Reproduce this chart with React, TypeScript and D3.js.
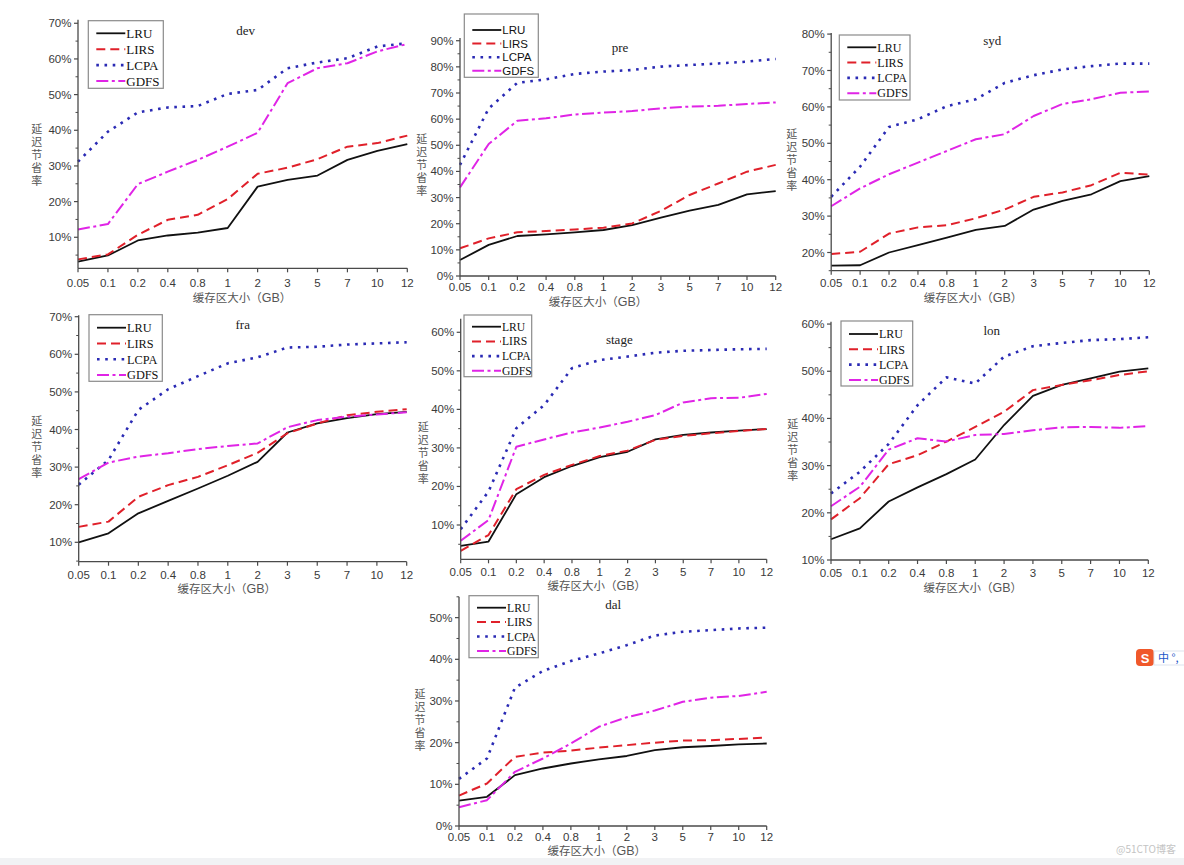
import React from "react";
import * as d3 from "d3";

const categories = ["0.05", "0.1", "0.2", "0.4", "0.8", "1", "2", "3", "5", "7", "10", "12"];
const seriesNames = ["LRU", "LIRS", "LCPA", "GDFS"];
const yLabelChars = ["延", "迟", "节", "省", "率"];

// values in %
const devLRU = [3.2, 4.9, 9.1, 10.5, 11.3, 12.6, 24.2, 26.1, 27.3, 31.7, 34.2, 36.1];
const devLIRS = [3.8, 5.2, 10.7, 14.9, 16.3, 20.7, 27.8, 29.5, 31.9, 35.4, 36.4, 38.5];
const devLCPA = [31.2, 39.6, 45.0, 46.4, 46.8, 50.2, 51.3, 57.4, 59.0, 60.2, 63.5, 64.4];
const devGDFS = [12.2, 13.7, 24.9, 28.4, 31.7, 35.4, 39.3, 53.2, 57.4, 58.8, 62.1, 64.2];

const preLRU = [6.1, 11.9, 15.3, 15.9, 16.7, 17.6, 19.5, 22.3, 25.0, 27.2, 31.2, 32.5];
const preLIRS = [10.6, 14.4, 16.7, 17.2, 17.8, 18.5, 20.1, 24.9, 31.0, 35.4, 39.9, 42.5];
const preLCPA = [42.5, 64.1, 73.9, 75.2, 77.3, 78.2, 78.8, 80.1, 80.7, 81.3, 82.0, 83.0];
const preGDFS = [33.9, 50.5, 59.4, 60.3, 61.8, 62.5, 63.1, 64.1, 64.8, 65.1, 65.8, 66.4];

const sydLRU = [16.4, 16.5, 20.0, 22.0, 24.1, 26.2, 27.3, 31.8, 34.2, 36.0, 39.6, 41.0];
const sydLIRS = [19.6, 20.2, 25.2, 26.9, 27.5, 29.4, 31.8, 35.3, 36.5, 38.5, 41.9, 41.4];
const sydLCPA = [35.3, 43.6, 54.5, 56.6, 60.2, 62.1, 66.6, 68.7, 70.3, 71.2, 71.9, 71.9];
const sydGDFS = [32.7, 37.6, 41.5, 44.7, 47.9, 51.1, 52.5, 57.5, 60.8, 62.1, 63.9, 64.2];

const fraLRU = [10.0, 12.4, 17.7, 21.0, 24.3, 27.7, 31.4, 39.2, 41.6, 43.0, 44.1, 44.7];
const fraLIRS = [14.1, 15.5, 22.1, 25.2, 27.4, 30.5, 33.8, 39.0, 41.6, 43.8, 44.7, 45.4];
const fraLCPA = [25.3, 31.9, 45.2, 50.7, 54.2, 57.6, 59.2, 61.8, 62.0, 62.6, 62.9, 63.2];
const fraGDFS = [26.8, 31.2, 32.8, 33.7, 34.8, 35.6, 36.3, 40.6, 42.5, 43.4, 44.0, 44.6];

const stageLRU = [4.6, 5.7, 18.0, 22.4, 25.3, 27.6, 29.0, 32.2, 33.4, 34.0, 34.5, 34.9];
const stageLIRS = [3.3, 7.4, 19.3, 23.0, 25.6, 27.9, 29.3, 32.1, 33.1, 33.8, 34.4, 34.9];
const stageLCPA = [8.9, 18.7, 35.1, 41.1, 50.7, 52.8, 53.7, 54.7, 55.2, 55.4, 55.6, 55.7];
const stageGDFS = [5.9, 11.3, 30.3, 32.2, 34.0, 35.3, 36.8, 38.5, 41.8, 42.9, 43.0, 44.0];

const lonLRU = [14.4, 16.7, 22.4, 25.4, 28.2, 31.3, 38.6, 44.8, 47.1, 48.5, 49.9, 50.6];
const lonLIRS = [18.6, 23.1, 30.3, 32.2, 35.1, 38.2, 41.4, 46.0, 47.1, 48.1, 49.2, 50.0];
const lonLCPA = [24.1, 28.7, 34.6, 42.8, 48.7, 47.4, 53.1, 55.3, 56.0, 56.6, 56.8, 57.2];
const lonGDFS = [21.4, 25.5, 33.4, 35.8, 35.1, 36.5, 36.7, 37.5, 38.1, 38.2, 38.0, 38.4];

const dalLRU = [6.1, 7.0, 12.2, 13.8, 15.0, 16.0, 16.8, 18.2, 18.9, 19.2, 19.6, 19.8];
const dalLIRS = [7.3, 10.2, 16.6, 17.6, 18.1, 18.8, 19.4, 20.0, 20.5, 20.6, 20.9, 21.2];
const dalLCPA = [11.3, 16.2, 33.2, 37.2, 39.6, 41.4, 43.4, 45.7, 46.6, 47.0, 47.4, 47.6];
const dalGDFS = [4.5, 6.2, 13.0, 16.2, 19.8, 23.8, 26.1, 27.7, 29.8, 30.8, 31.2, 32.2];

const styles = [
  { color: "#111111", dash: "none", width: 1.8 },
  { color: "#e0202a", dash: "9,5", width: 2 },
  { color: "#2a2ab4", dash: "2.6,5.6", width: 2.6 },
  { color: "#e024e6", dash: "12,3.5,3,3.5", width: 2 },
];

type PanelCfg = {
  name: string;
  data: number[][];
  left: number; right: number; bottom: number; top: number;
  ymin: number; ymax: number;
  title: [number, number];
  legend: [number, number, number, number];
  rowStart: number; rowStep: number; legendFont: number; legendSans?: boolean;
  yLab: [number, number];
  xTickY: number;
  xLab: [number, number];
};

const panels: PanelCfg[] = [
  { name: "dev", data: [devLRU, devLIRS, devLCPA, devGDFS], left: 78, right: 407.3, bottom: 268.3, top: 19.7, ymin: 1.3, ymax: 71,
    title: [245.7, 30], legend: [88.3, 20.7, 75, 67.6], rowStart: 12.6, rowStep: 15.9, legendFont: 13, yLab: [36.7, 155], xTickY: 283, xLab: [242, 298] },
  { name: "pre", data: [preLRU, preLIRS, preLCPA, preGDFS], left: 460, right: 775.7, bottom: 276, top: 38.1, ymin: 0, ymax: 91,
    title: [620, 47.7], legend: [464.3, 14, 74, 63.3], rowStart: 16, rowStep: 13.6, legendFont: 11.5, legendSans: true, yLab: [421.7, 165], xTickY: 287, xLab: [598, 301.5] },
  { name: "syd", data: [sydLRU, sydLIRS, sydLCPA, sydGDFS], left: 831.2, right: 1149.3, bottom: 270.7, top: 33, ymin: 15, ymax: 80.3,
    title: [992.3, 40.7], legend: [839.3, 35, 70.7, 65], rowStart: 12.3, rowStep: 15.3, legendFont: 12, yLab: [791.7, 160], xTickY: 282.7, xLab: [973, 297.5] },
  { name: "fra", data: [fraLRU, fraLIRS, fraLCPA, fraGDFS], left: 78.7, right: 406.7, bottom: 561.7, top: 315.2, ymin: 4.84, ymax: 70.4,
    title: [242.7, 324], legend: [89, 314.7, 73.3, 66.6], rowStart: 13, rowStep: 15.8, legendFont: 12.3, yLab: [36.7, 447], xTickY: 575, xLab: [226.7, 589] },
  { name: "stage", data: [stageLRU, stageLIRS, stageLCPA, stageGDFS], left: 460.7, right: 766.7, bottom: 559.3, top: 318.8, ymin: 1.1, ymax: 63.5,
    title: [619.3, 339], legend: [464, 315, 67.7, 61.7], rowStart: 11.7, rowStep: 14.7, legendFont: 11.6, yLab: [423.3, 453], xTickY: 571.7, xLab: [596.7, 585.5] },
  { name: "lon", data: [lonLRU, lonLIRS, lonLCPA, lonGDFS], left: 831, right: 1148.3, bottom: 560, top: 321.7, ymin: 10, ymax: 60.5,
    title: [991.7, 330.7], legend: [841, 321, 71.7, 65], rowStart: 13, rowStep: 15.3, legendFont: 12, yLab: [792.7, 450], xTickY: 573.3, xLab: [972.7, 587.5] },
  { name: "dal", data: [dalLRU, dalLIRS, dalLCPA, dalGDFS], left: 459, right: 766.7, bottom: 826, top: 596.8, ymin: 0, ymax: 55,
    title: [613.3, 604], legend: [469, 595.7, 69.3, 62], rowStart: 12, rowStep: 14.4, legendFont: 11.7, yLab: [420, 720], xTickY: 837.3, xLab: [596.7, 851] },
];

const SANS = "'Liberation Sans', Arial, sans-serif";
const SERIF = "'Liberation Serif', 'Times New Roman', serif";
const CJK = "'Noto Sans CJK SC', sans-serif";

function Panel({ p }: { p: PanelCfg }) {
  const x = d3.scalePoint<string>().domain(categories).range([p.left, p.right]).padding(0);
  const y = d3.scaleLinear().domain([p.ymin, p.ymax]).range([p.bottom, p.top]);
  const majors = d3.range(Math.ceil(p.ymin / 10) * 10, p.ymax + 0.001, 10);
  const minors = d3.range(Math.ceil(p.ymin / 5) * 5, p.ymax + 0.001, 5).filter((v) => v % 10 !== 0);
  const line = d3.line<number>().x((_, i) => x(categories[i]) as number).y((v) => y(v));
  const axisColor = "#4a4a4a";
  const [lx, ly, lw, lh] = p.legend;
  return (
    <g>
      {p.data.map((s, i) => (
        <path key={i} d={line(s) || ""} fill="none" stroke={styles[i].color} strokeWidth={styles[i].width}
          strokeDasharray={styles[i].dash} strokeLinejoin="round" />
      ))}
      <line x1={p.left} x2={p.left} y1={p.top} y2={p.bottom} stroke={axisColor} strokeWidth={1.3} />
      <line x1={p.left} x2={p.right} y1={p.bottom} y2={p.bottom} stroke={axisColor} strokeWidth={1.3} />
      {majors.map((v) => (
        <g key={"m" + v}>
          <line x1={p.left - 4} x2={p.left} y1={y(v)} y2={y(v)} stroke={axisColor} strokeWidth={1.2} />
          <text x={p.left - 6.5} y={y(v)} dy="0.35em" textAnchor="end" fontFamily={SANS} fontSize={11.5} fill="#3a3a3a">{v}%</text>
        </g>
      ))}
      {minors.map((v) => (
        <line key={"n" + v} x1={p.left - 2.5} x2={p.left} y1={y(v)} y2={y(v)} stroke={axisColor} strokeWidth={1} />
      ))}
      {categories.map((c) => (
        <g key={c}>
          <line x1={x(c)} x2={x(c)} y1={p.bottom} y2={p.bottom + 4} stroke={axisColor} strokeWidth={1.2} />
          <text x={x(c)} y={p.xTickY} dy="0.35em" textAnchor="middle" fontFamily={SANS} fontSize={11.5} fill="#3a3a3a">{c}</text>
        </g>
      ))}
      <text x={p.title[0]} y={p.title[1]} dy="0.35em" textAnchor="middle" fontFamily={SERIF} fontSize={13} fill="#222">{p.name}</text>
      <text x={p.xLab[0]} y={p.xLab[1]} dy="0.36em" textAnchor="middle" fontFamily={CJK} fontSize={11.5} fill="#555">
        缓存区大小（<tspan fontFamily={SANS} fontSize={12.5}>GB</tspan>）
      </text>
      <text fontFamily={CJK} fontSize={11} fill="#555" textAnchor="middle">
        {yLabelChars.map((ch, i) => (
          <tspan key={i} x={p.yLab[0]} y={p.yLab[1] + (i - 2) * 13} dy="0.38em">{ch}</tspan>
        ))}
      </text>
      <rect x={lx} y={ly} width={lw} height={lh} fill="#fff" stroke="#8a8a8a" strokeWidth={1.2} />
      {seriesNames.map((n, i) => {
        const ry = ly + p.rowStart + i * p.rowStep;
        return (
          <g key={n}>
            <line x1={lx + 8} x2={lx + 37} y1={ry} y2={ry} stroke={styles[i].color} strokeWidth={styles[i].width}
              strokeDasharray={styles[i].dash} />
            <text x={lx + 38} y={ry} dy="0.35em" fontFamily={p.legendSans ? SANS : SERIF} fontSize={p.legendFont} fill="#111">{n}</text>
          </g>
        );
      })}
    </g>
  );
}

export default function App() {
  return (
    <svg width={1184} height={865} style={{ position: "absolute", left: 0, top: 0, background: "#fff" }}>
      <rect x={0} y={0} width={1184} height={865} fill="#fff" />
      {panels.map((p) => <Panel key={p.name} p={p} />)}
      <rect x={0} y={858} width={1184} height={7} fill="#f1f2f4" />
      <text x={1146} y={853} textAnchor="middle" fontFamily={CJK} fontSize={10} fill="#c4c4c4">@51CTO博客</text>
      <rect x={1136} y={649} width={18} height={17} rx={4} fill="#f0582a" />
      <text x={1145} y={658} dy="0.35em" textAnchor="middle" fontFamily={SANS} fontWeight="bold" fontSize={13} fill="#fff">S</text>
      <rect x={1154} y={651} width={32} height={14} fill="#fff" stroke="#dde3ee" />
      <text x={1158} y={658} dy="0.35em" fontFamily={CJK} fontSize={11} fill="#1a56c8">中 °,</text>
    </svg>
  );
}
